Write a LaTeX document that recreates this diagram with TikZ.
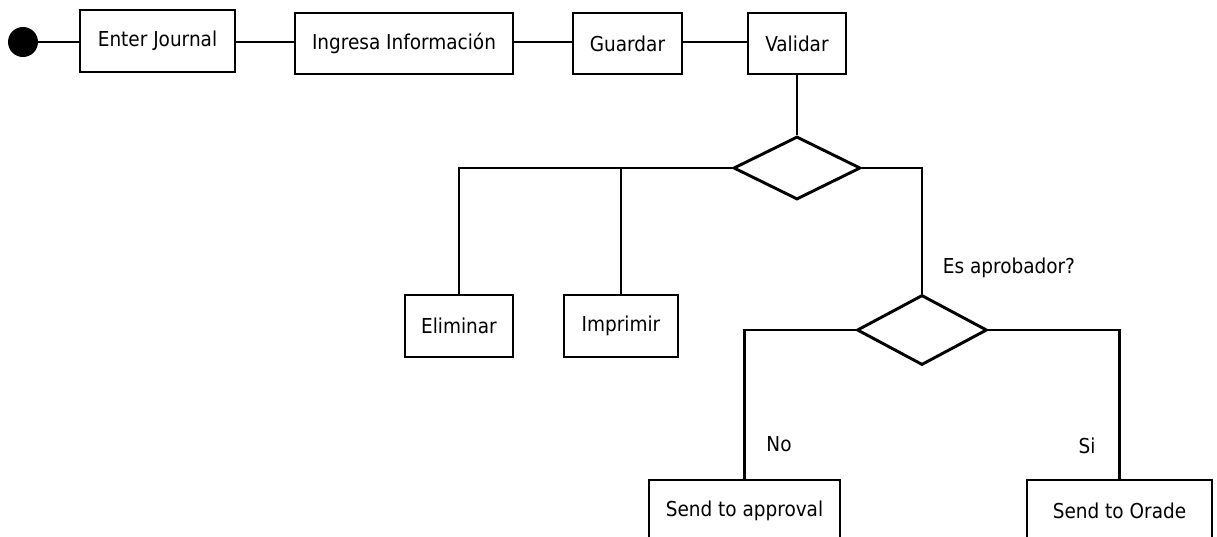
\documentclass[tikz,border=0pt]{standalone}
\usepackage{fontspec}
\setmainfont{DejaVu Sans Condensed}
\usetikzlibrary{shapes.geometric}
\begin{document}
\begin{tikzpicture}[x=0.75pt,y=-0.75pt,
  act/.style={draw, line width=2.2pt, inner sep=0pt, minimum height={62*0.75pt},
    font=\fontsize{15.4}{17}\selectfont},
  choice/.style={draw, diamond, line width=2.2pt, inner sep=0pt},
  lbl/.style={font=\fontsize{15.4}{17}\selectfont, inner sep=0pt},
  wire/.style={line width=2.2pt}]
\useasboundingbox (0,0) rectangle (1217,536);
\clip (0,0) rectangle (1217,536);

% initial state
\node[circle, fill=black, minimum size={30*0.75pt}, inner sep=0pt] (start) at (23,42) {};

% top row of activities
\node[act, minimum width={155*0.75pt}] (enter) at (157.5,41) {Enter Journal};
\node[act, minimum width={218*0.75pt}, minimum height={61*0.75pt}] (ingresa) at (404,43.5) {Ingresa Información};
\node[act, minimum width={109*0.75pt}, minimum height={61*0.75pt}] (guardar) at (627.5,43.5) {Guardar};
\node[act, minimum width={98*0.75pt}, minimum height={61*0.75pt}] (validar) at (797,43.5) {Validar};

% first decision and its branches
\node[choice, minimum width={127*0.75pt}, minimum height={63*0.75pt}] (d1) at (797,168) {};
\node[act, minimum width={108*0.75pt}] (eliminar) at (459,326) {Eliminar};
\node[act, minimum width={114*0.75pt}] (imprimir) at (621,326) {Imprimir};

% approval decision
\node[choice, minimum width={130*0.75pt}, minimum height={70*0.75pt}] (d2) at (922,330) {};
\node[lbl] (q) at (1009,268) {Es aprobador?};
\node[act, minimum width={191*0.75pt}] (approval) at (744.5,511) {Send to approval};
\node[act, minimum width={185*0.75pt}] (orade) at (1119.5,511) {Send to Orade};
\node[lbl] (no) at (779,444) {No};
\node[lbl] (si) at (1087,446) {Si};

% connectors
\draw[wire] (start.east) -- (start.east -| enter.west);
\draw[wire] (start.east -| enter.east) -- (start.east -| ingresa.west);
\draw[wire] (start.east -| ingresa.east) -- (start.east -| guardar.west);
\draw[wire] (start.east -| guardar.east) -- (start.east -| validar.west);
\draw[wire] (validar.south) -- (d1.north);
\draw[wire] (d1.west) -| (eliminar.north);
\draw[wire] (imprimir.north |- d1.west) -- (imprimir.north);
\draw[wire] (d1.east) -| (d2.north);
\draw[wire] (d2.west) -| (approval.north);
\draw[wire] (d2.east) -| (orade.north);
\end{tikzpicture}
\end{document}
